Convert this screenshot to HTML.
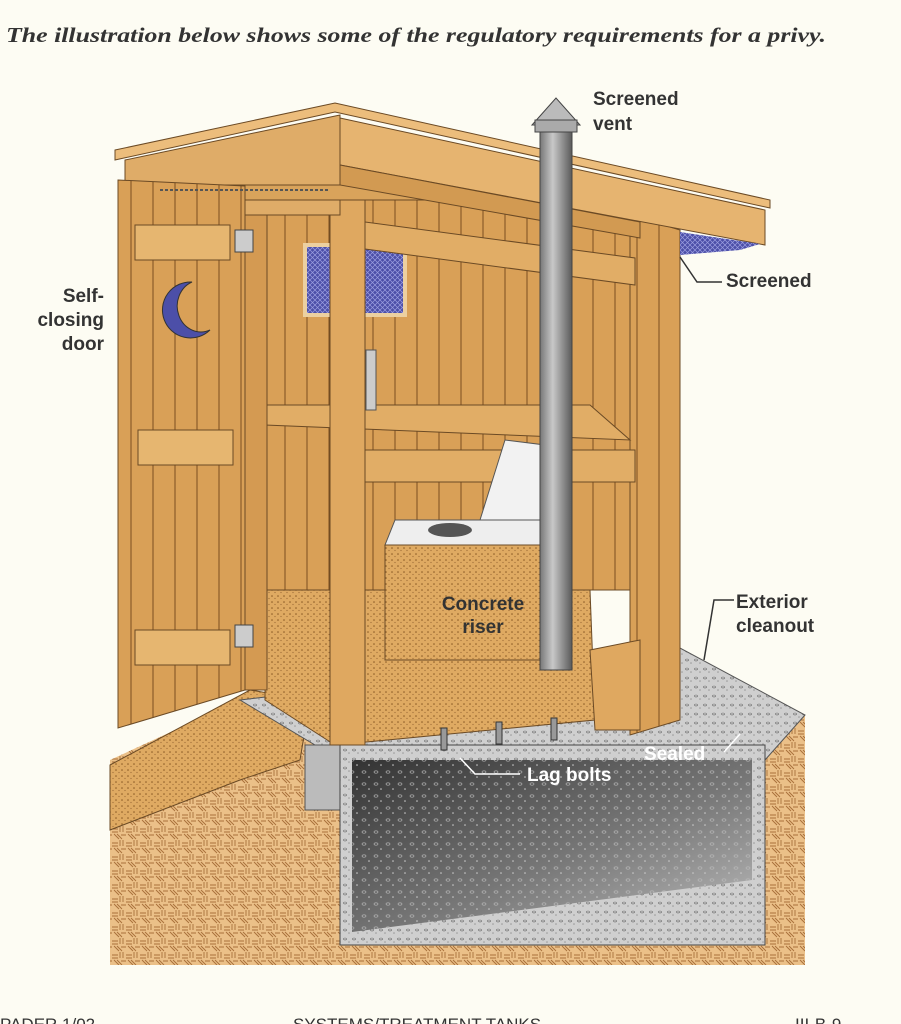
<!DOCTYPE html>
<html><head><meta charset="utf-8"><style>
html,body{margin:0;padding:0;background:#fdfcf3;}
svg{display:block;}
</style></head><body>
<svg width="901" height="1024" viewBox="0 0 901 1024" xmlns="http://www.w3.org/2000/svg">
<defs>
<pattern id="dots" width="6" height="6" patternUnits="userSpaceOnUse"><rect width="6" height="6" fill="#dfaa62"/><circle cx="2" cy="2" r="0.8" fill="#8a5a25"/><circle cx="5" cy="4.5" r="0.6" fill="#9a6a35"/></pattern>
<pattern id="ground" width="14" height="14" patternUnits="userSpaceOnUse"><rect width="14" height="14" fill="#ebc088"/><path d="M0 3h6M0 6h6M8 0v6M11 0v6M2 8l5 5M5 8l5 5M9 9h5" stroke="#a8703a" stroke-width="0.9"/></pattern>
<pattern id="conc" width="9" height="9" patternUnits="userSpaceOnUse"><rect width="9" height="9" fill="#cfcfcf"/><ellipse cx="3" cy="3" rx="1.5" ry="1" fill="none" stroke="#666" stroke-width="0.6"/><circle cx="7" cy="6" r="0.8" fill="#999"/></pattern>
<pattern id="pconc" width="12" height="12" patternUnits="userSpaceOnUse"><ellipse cx="4" cy="4" rx="2" ry="1.2" fill="none" stroke="#bbb" stroke-width="0.6"/><circle cx="9" cy="9" r="0.8" fill="#ccc"/></pattern>
<pattern id="screen" width="5" height="5" patternUnits="userSpaceOnUse"><rect width="5" height="5" fill="#4c4fa8"/><path d="M0 0l5 5M5 0l-5 5" stroke="#9b9ee0" stroke-width="0.7"/></pattern>
<pattern id="boards" width="22" height="10" patternUnits="userSpaceOnUse"><rect width="22" height="10" fill="#d9a057"/><path d="M21 0v10" stroke="#7a4e20" stroke-width="1"/></pattern>
<linearGradient id="pit" x1="0" y1="0" x2="1" y2="1"><stop offset="0" stop-color="#333"/><stop offset="0.55" stop-color="#777"/><stop offset="1" stop-color="#bdbdbd"/></linearGradient>
<linearGradient id="pipe" x1="0" x2="1"><stop offset="0" stop-color="#777"/><stop offset="0.4" stop-color="#c8c8c8"/><stop offset="1" stop-color="#5a5a5a"/></linearGradient>
</defs>

<text x="6" y="42" font-family="Liberation Serif, serif" font-style="italic" font-weight="bold" font-size="21" fill="#333" textLength="820" lengthAdjust="spacingAndGlyphs">The illustration below shows some of the regulatory requirements for a privy.</text>

<polygon points="110,760 240,700 340,730 805,715 805,965 110,965" fill="url(#ground)"/>
<polygon points="110,765 250,690 310,700 300,760 240,780 110,830" fill="url(#dots)" stroke="#6b4a25"/>
<polygon points="240,700 680,648 805,715 765,760 340,760" fill="url(#conc)" stroke="#555"/>
<rect x="305" y="745" width="35" height="65" fill="#bbb" stroke="#555"/>
<polygon points="340,745 765,745 765,945 340,945" fill="url(#conc)" stroke="#444"/>
<polygon points="352,760 752,760 752,880 352,932" fill="url(#pit)"/>
<polygon points="352,760 752,760 752,880 352,932" fill="url(#pconc)"/>

<rect x="265" y="185" width="375" height="405" fill="url(#boards)" stroke="#6b4a25"/>
<rect x="305" y="245" width="100" height="70" fill="url(#screen)" stroke="#ecd0a0" stroke-width="4"/>
<polygon points="630,215 680,230 680,720 630,735" fill="url(#boards)" stroke="#6b4a25"/>
<polygon points="265,590 590,590 595,720 335,745 265,700" fill="url(#dots)" stroke="#6b4a25"/>
<polygon points="265,405 590,405 630,440 265,425" fill="#e1ad66" stroke="#6b4a25"/>
<polygon points="335,450 635,450 635,482 335,482" fill="#e1ad66" stroke="#6b4a25"/>
<polygon points="335,218 635,258 635,285 335,245" fill="#e1ad66" stroke="#6b4a25"/>
<polygon points="395,520 540,520 540,545 385,545" fill="#eee" stroke="#555"/>
<ellipse cx="450" cy="530" rx="22" ry="7" fill="#555"/>
<polygon points="480,520 505,440 545,445 540,520" fill="#f2f2f2" stroke="#555"/>
<polygon points="385,545 540,545 540,660 385,660" fill="url(#dots)" stroke="#6b4a25"/>
<rect x="330" y="170" width="35" height="575" fill="#dfa860" stroke="#6b4a25"/>
<rect x="245" y="185" width="22" height="505" fill="#d49a52" stroke="#6b4a25"/>
<polygon points="590,650 640,640 640,730 595,730" fill="#dfa860" stroke="#6b4a25"/>
<!-- roof -->
<polygon points="125,160 340,115 340,215 125,215" fill="#dfac68" stroke="#6b4a25"/>
<polygon points="180,185 640,185 640,200 180,200" fill="#d9a35b" stroke="#6b4a25"/>
<polygon points="340,118 765,210 765,245 340,165" fill="#e6b470" stroke="#6b4a25"/>
<polygon points="340,165 640,222 640,238 340,185" fill="#d29a52" stroke="#6b4a25"/>
<polygon points="115,150 335,103 770,200 770,208 335,112 115,160" fill="#ecbd7c" stroke="#6b4a25"/>
<polygon points="680,232 760,244 740,250 680,255" fill="url(#screen)"/>
<!-- vent pipe in front -->
<rect x="540" y="128" width="32" height="542" fill="url(#pipe)" stroke="#444"/>
<polygon points="532,125 556,98 580,125" fill="#bbb" stroke="#444"/>
<rect x="535" y="120" width="42" height="12" fill="#aaa" stroke="#444"/>
<!-- door -->
<polygon points="118,180 245,186 245,690 118,728" fill="url(#boards)" stroke="#6b4a25"/>
<rect x="135" y="225" width="95" height="35" fill="#e6b670" stroke="#6b4a25"/>
<rect x="138" y="430" width="95" height="35" fill="#e6b670" stroke="#6b4a25"/>
<rect x="135" y="630" width="95" height="35" fill="#e6b670" stroke="#6b4a25"/>
<rect x="235" y="230" width="18" height="22" fill="#ccc" stroke="#444"/>
<rect x="235" y="625" width="18" height="22" fill="#ccc" stroke="#444"/>
<path d="M192 282 A28 28 0 1 0 210 330 A22 24 0 1 1 192 282 Z" fill="#4c4fa8" stroke="#333"/>
<line x1="160" y1="190" x2="330" y2="190" stroke="#555" stroke-dasharray="3,2" stroke-width="2"/>
<rect x="366" y="350" width="10" height="60" fill="#ccc" stroke="#555"/>
<g fill="#999" stroke="#333"><rect x="441" y="728" width="6" height="22"/><rect x="496" y="722" width="6" height="22"/><rect x="551" y="718" width="6" height="22"/></g>

<g font-family="Liberation Sans, sans-serif" font-weight="bold" font-size="19" fill="#333">
<text x="593" y="105">Screened</text><text x="593" y="130">vent</text>
<text x="726" y="287">Screened</text>
<text x="104" y="302" text-anchor="end">Self-</text><text x="104" y="326" text-anchor="end">closing</text><text x="104" y="350" text-anchor="end">door</text>
<text x="483" y="610" text-anchor="middle">Concrete</text><text x="483" y="633" text-anchor="middle">riser</text>
<text x="736" y="608">Exterior</text><text x="736" y="632">cleanout</text>
<text x="644" y="760" fill="#fff">Sealed</text>
<text x="527" y="781" fill="#fff">Lag bolts</text>
</g>
<g stroke="#333" fill="none" stroke-width="1.5">
<path d="M722 282h-25l-17 -25"/>
<path d="M734 600h-20l-10 60"/>
<path d="M520 774h-45l-15 -16" stroke="#fff"/>
<path d="M724 752l16 -18" stroke="#fff"/>
</g>

<g font-family="Liberation Sans, sans-serif" font-size="17" fill="#333">
<text x="0" y="1030">PADER 1/02</text>
<text x="293" y="1030">SYSTEMS/TREATMENT TANKS</text>
<text x="795" y="1030">III-B-9</text>
</g>
</svg>
</body></html>
